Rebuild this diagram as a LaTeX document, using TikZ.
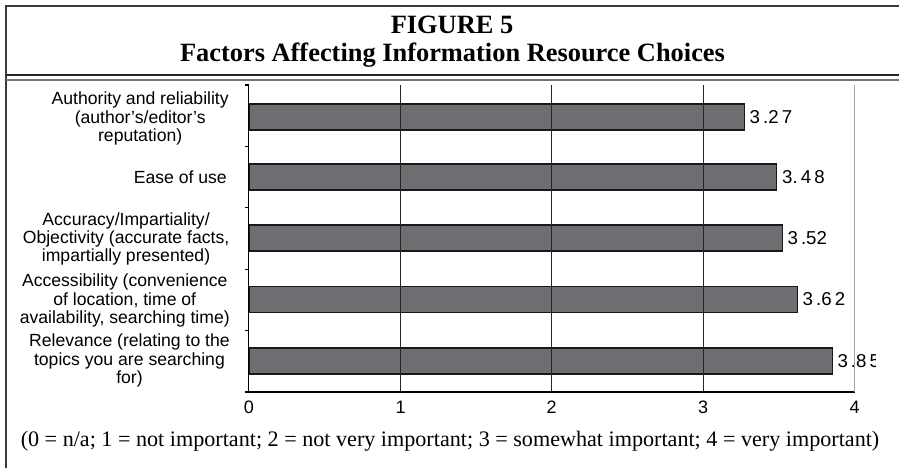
\documentclass[tikz,border=0pt]{standalone}
\usepackage{fontspec}
\setmainfont{Liberation Serif}
\setsansfont{Liberation Sans}
\usetikzlibrary{positioning}
\definecolor{mybarcolor}{HTML}{6D6E71}
\definecolor{myframecolor}{HTML}{3A3A3C}
\definecolor{mygridcolor}{HTML}{A2A4A7}

\begin{document}
\begin{tikzpicture}[x=0.75pt, y=-0.75pt,
  mybar/.style={draw=black!90, line width=1.1pt, fill=mybarcolor, rectangle, anchor=west, minimum height=19.5pt, inner sep=0pt},
  mylabel/.style={anchor=east, align=center, inner sep=0pt, font=\sffamily\fontsize{13.2pt}{13.8pt}\selectfont},
  myvalue/.style={anchor=west, inner sep=0pt, font=\sffamily\fontsize{14pt}{14pt}\selectfont},
  mytick/.style={anchor=base, font=\sffamily\fontsize{13.5pt}{13.5pt}\selectfont},
  mygrid/.style={draw=black!85, line width=0.7pt}]%
\useasboundingbox (0,0) rectangle (899,468);%
% frame and title
\draw[myframecolor, line width=1pt] (6,468) -- (6,6) -- (899,6);%
\draw[black!85, line width=1.1pt] (6,75) -- (899,75);%
\draw[black!55, line width=1pt] (6,80) -- (899,80);%
\node[anchor=base, font=\bfseries\fontsize{19.8pt}{19.8pt}\selectfont] (title1) at (452,33.3) {FIGURE 5};%
\node[anchor=base, font=\bfseries\fontsize{19.8pt}{19.8pt}\selectfont] (title2) at (452.5,61.7) {Factors Affecting Information Resource Choices};%
% axes
\coordinate (origin) at (248.5,392);%
\coordinate (top) at (248.5,85);%
\foreach \y in {85,146.4,207.8,269.2,330.6,392} \draw[black, line width=0.8pt] (245,\y) -- (248.5,\y);%
% bars
\node[mybar, minimum width=3.27*113.625pt] (bar1) at (248.5,117) {};%
\node[mybar, minimum width=3.48*113.625pt] (bar2) at (248.5,177) {};%
\node[mybar, minimum width=3.52*113.625pt] (bar3) at (248.5,238) {};%
\node[mybar, minimum width=3.62*113.625pt] (bar4) at (248.5,299.5) {};%
\node[mybar, minimum width=3.85*113.625pt] (bar5) at (248.5,361) {};%
% grid lines
\draw[mygrid] (400,85) -- (400,392);%
\draw[mygrid] (551.5,85) -- (551.5,392);%
\draw[mygrid] (703,85) -- (703,392);%
\draw[black, line width=0.9pt] (top) -- (origin) -- (854.5,392);%
% category labels
\node[mylabel] (lab1) at (229,118.5) {Authority and reliability\\(author's/editor's\\reputation)};%
\node[mylabel] (lab2) at (227,177.5) {Ease of use};%
\node[mylabel] (lab3) at (229.5,239) {Accuracy/Impartiality/\\Objectivity (accurate facts,\\impartially presented)};%
\node[mylabel] (lab4) at (230,300.5) {Accessibility (convenience\\of location, time of\hspace*{2.2em}\\availability, searching time)};%
\node[mylabel] (lab5) at (230,360.5) {Relevance (relating to the\\topics you are searching\\for)};%
% values
\node[myvalue] (val1) at ([xshift=3pt]bar1.east) {3\,.2\,7};%
\node[myvalue] (val2) at ([xshift=3.5pt]bar2.east) {3.\,4\,8};%
\node[myvalue] (val3) at ([xshift=3pt]bar3.east) {3\,.52};%
\node[myvalue] (val4) at ([xshift=3pt]bar4.east) {3\,.6\,2};%
\begin{scope}%
\clip (0,0) rectangle (875,468);%
\node[myvalue] (val5) at ([xshift=3pt]bar5.east) {3\,.8\,5};%
\end{scope}%
\draw[mygridcolor, line width=1.1pt] (854.5,85) -- (854.5,392);%
% axis numbers
\node[mytick] (x0) at (249,413.3) {0};%
\node[mytick] (x1) at (400.5,413.3) {1};%
\node[mytick] (x2) at (551.5,413.3) {2};%
\node[mytick] (x3) at (703,413.3) {3};%
\node[mytick] (x4) at (854.5,413.3) {4};%
% note
\node[font=\fontsize{16.6pt}{16.6pt}\selectfont] (note) at (450,441) {(0 = n/a; 1 = not important; 2 = not very important; 3 = somewhat important; 4 = very important)};%
\end{tikzpicture}
\end{document}
